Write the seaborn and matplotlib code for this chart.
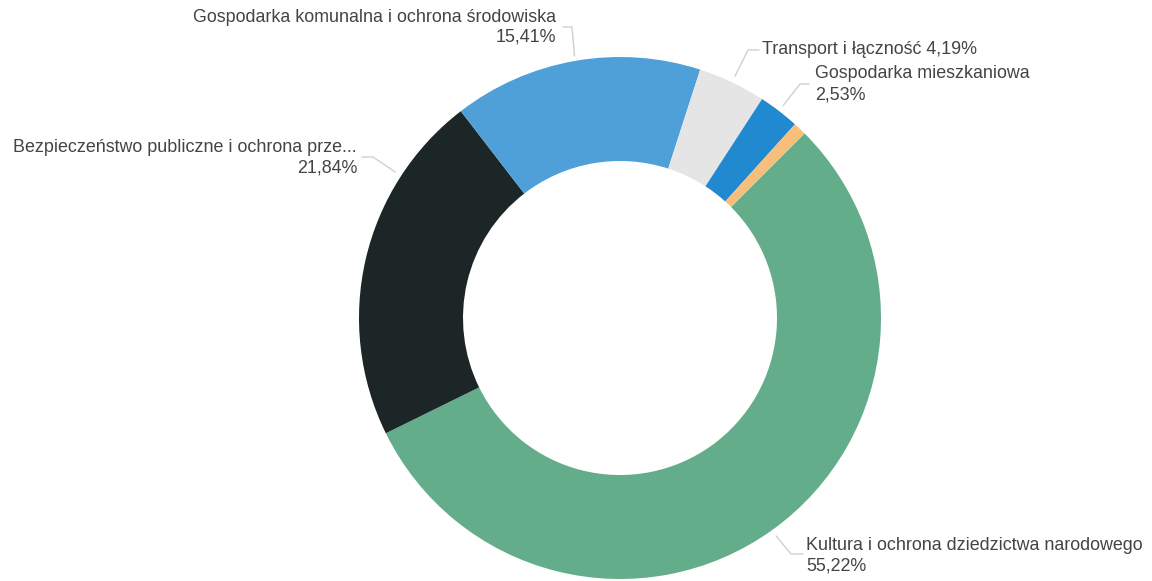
import numpy as np
import matplotlib
matplotlib.use("Agg")
import matplotlib.pyplot as plt
import seaborn as sns

categories = [
    "Kultura i ochrona dziedzictwa narodowego",
    "Bezpieczeństwo publiczne i ochrona prze...",
    "Gospodarka komunalna i ochrona środowiska",
    "Transport i łączność",
    "Gospodarka mieszkaniowa",
    "Pozostałe",
]
values = [55.22, 21.84, 15.41, 4.19, 2.53, 0.81]
value_labels = ["55,22%", "21,84%", "15,41%", "4,19%", "2,53%", ""]
colors = ["#64AD8B", "#1C2626", "#4FA0D8", "#E5E5E5", "#2189CF", "#F8BE7C"]

sns.set_theme(style="white")
plt.rcParams["font.family"] = ["Liberation Sans", "DejaVu Sans"]

W, H = 1152, 581
fig = plt.figure(figsize=(W / 100, H / 100), dpi=100)
ax = fig.add_axes([0, 0, 1, 1])

cx, cy, R, r_in = 620, 318, 261, 157
# y axis is flipped (pixel coordinates), so counterclock=True appears clockwise
wedges, _ = ax.pie(values, colors=colors, startangle=-45, counterclock=True,
                   center=(cx, cy), radius=R, frame=True,
                   wedgeprops=dict(width=R - r_in, linewidth=0))
ax.set_xlim(0, W)
ax.set_ylim(H, 0)
ax.set_aspect("equal")
ax.axis("off")

txt_color = "#444444"
fs = 12.9
line_col = "#D0D0D0"

def anchor(i, rad, ang_override=None):
    w = wedges[i]
    ang = (w.theta1 + w.theta2) / 2 if ang_override is None else ang_override
    a = np.deg2rad(ang)
    return cx + rad * np.cos(a), cy + rad * np.sin(a)

def txt(x, y, s, ha):
    ax.text(x, y, s, ha=ha, va="center", fontsize=fs, color=txt_color)

# Kultura
x0, y0 = anchor(0, 268)
ax.plot([x0, 791, 803], [y0, 554, 554], color=line_col, lw=1)
txt(806, 546, categories[0], "left")
txt(806, 566, value_labels[0], "left")

# Bezpieczenstwo
x0, y0 = anchor(1, 268, ang_override=213)
ax.plot([x0, 373, 362], [y0, 157, 157], color=line_col, lw=1)
txt(357, 148, categories[1], "right")
txt(357, 168, value_labels[1], "right")

# Komunalna
x0, y0 = anchor(2, 266)
ax.plot([x0, 572, 563], [y0, 27, 27], color=line_col, lw=1)
txt(556, 17, categories[2], "right")
txt(556, 37, value_labels[2], "right")

# Transport
x0, y0 = anchor(3, 268)
ax.plot([x0, 748, 759], [y0, 50, 50], color=line_col, lw=1)
txt(762, 50, categories[3] + " " + value_labels[3], "left")

# Mieszkaniowa
x0, y0 = anchor(4, 268)
ax.plot([x0, 800, 809], [y0, 84, 84], color=line_col, lw=1)
txt(815, 73, categories[4], "left")
txt(815, 95, value_labels[4], "left")

fig.savefig("out.png", dpi=100, facecolor="white")
